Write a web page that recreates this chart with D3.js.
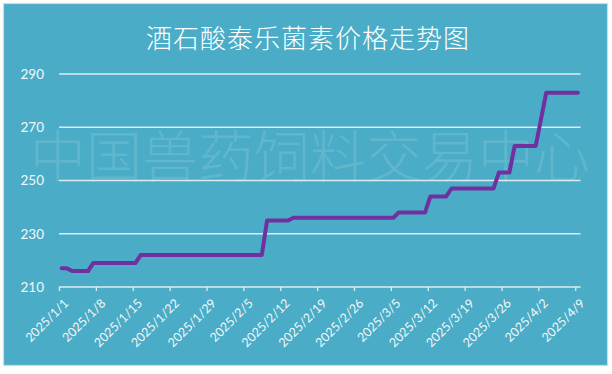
<!DOCTYPE html>
<html>
<head>
<meta charset="utf-8">
<script src="https://cdn.jsdelivr.net/npm/d3@7/dist/d3.min.js"></script>
<style>
  html, body { margin: 0; padding: 0; background: #ffffff; }
  svg { display: block; }
</style>
</head>
<body>
<svg id="chart" width="612" height="374"></svg>
<script>
// Price observations (元/kg) — dates where the price was recorded
const obsDates = [
  "2025-01-01", "2025-01-02", "2025-01-03", "2025-01-06", "2025-01-07",
  "2025-01-15", "2025-01-16", "2025-02-08", "2025-02-09", "2025-02-13",
  "2025-02-14", "2025-03-05", "2025-03-06", "2025-03-11", "2025-03-12",
  "2025-03-15", "2025-03-16", "2025-03-24", "2025-03-25", "2025-03-27",
  "2025-03-28", "2025-04-01", "2025-04-03", "2025-04-09"
];
const obsPrices = [
  217, 217, 216, 216, 219,
  219, 222, 222, 235, 235,
  236, 236, 238, 238, 244,
  244, 247, 247, 253, 253,
  263, 263, 283, 283
];

// Axis ticks
const yTicks = [210, 230, 250, 270, 290];
const xTickDates = [
  "2025-01-01", "2025-01-08", "2025-01-15", "2025-01-22", "2025-01-29",
  "2025-02-05", "2025-02-12", "2025-02-19", "2025-02-26", "2025-03-05",
  "2025-03-12", "2025-03-19", "2025-03-26", "2025-04-02", "2025-04-09"
];

const title = "酒石酸泰乐菌素价格走势图";
const watermark = "中国兽药饲料交易中心";

const parse = d3.utcParse("%Y-%m-%d");
const fmt = d => `${d.getUTCFullYear()}/${d.getUTCMonth() + 1}/${d.getUTCDate()}`;

const data = obsDates.map((d, i) => ({ date: parse(d), value: obsPrices[i] }));

const svg = d3.select("#chart");

const plot = { left: 59, right: 580.5, top: 74, bottom: 287 };

// Chart background and border
svg.append("rect")
  .attr("x", 3.5).attr("y", 3.5)
  .attr("width", 604).attr("height", 362)
  .attr("fill", "#4aacc6")
  .attr("stroke", "#d6d9dc")
  .attr("stroke-width", 1.2);

// Each day occupies one slot; points sit in the middle of their slot
const x = d3.scaleUtc()
  .domain([parse("2025-01-01"), parse("2025-04-10")])
  .range([plot.left, plot.right]);
const halfDay = 12 * 3600 * 1000;
const xMid = d => x(new Date(d.getTime() + halfDay));

const y = d3.scaleLinear()
  .domain([210, 290])
  .range([plot.bottom, plot.top]);

// Watermark
svg.append("text")
  .attr("x", 30).attr("y", 177)
  .attr("font-family", "'Noto Sans CJK SC', sans-serif")
  .attr("font-weight", 300)
  .attr("font-size", 56)
  .attr("fill", "#ffffff")
  .attr("fill-opacity", 0.12)
  .text(watermark);

// Horizontal gridlines
svg.append("g")
  .selectAll("line")
  .data(yTicks.filter(v => v !== 210))
  .join("line")
  .attr("x1", plot.left).attr("x2", plot.right)
  .attr("y1", d => y(d)).attr("y2", d => y(d))
  .attr("stroke", "#dcecf2")
  .attr("stroke-width", 1.3);

// Y axis labels
const yAxis = d3.axisLeft(y).tickValues(yTicks).tickSize(0).tickPadding(15);
const gy = svg.append("g")
  .attr("transform", `translate(${plot.left},0)`)
  .call(yAxis);
gy.select(".domain").remove();
gy.selectAll("text")
  .attr("font-family", "Lato, 'Open Sans', sans-serif")
  .attr("font-size", 13.5)
  .attr("fill", "#f4f8fa");

// X axis
const xTicks = xTickDates.map(parse);
const xAxis = d3.axisBottom(x).tickValues(xTicks).tickSize(4).tickFormat(fmt);
const gx = svg.append("g")
  .attr("transform", `translate(0,${plot.bottom})`)
  .call(xAxis);
gx.select(".domain")
  .attr("stroke", "#dcecf2")
  .attr("stroke-width", 1.3)
  .attr("d", `M${plot.left},0H${plot.right}`);
gx.selectAll(".tick line")
  .attr("stroke", "#dcecf2")
  .attr("stroke-width", 1.3);
gx.selectAll(".tick text")
  .attr("font-family", "Lato, 'Open Sans', sans-serif")
  .attr("font-size", 12.5)
  .attr("fill", "#f4f8fa")
  .attr("text-anchor", "end")
  .attr("dy", null)
  .attr("y", 0)
  .attr("transform", "translate(10,17) rotate(-45)");

// Price line
const line = d3.line()
  .x(d => xMid(d.date))
  .y(d => y(d.value));

svg.append("path")
  .datum(data)
  .attr("d", line)
  .attr("fill", "none")
  .attr("stroke", "#7030a0")
  .attr("stroke-width", 4)
  .attr("stroke-linejoin", "round")
  .attr("stroke-linecap", "round");

// Title
svg.append("text")
  .attr("x", 308).attr("y", 48)
  .attr("text-anchor", "middle")
  .attr("font-family", "'Noto Sans CJK SC', sans-serif")
  .attr("font-weight", 300)
  .attr("font-size", 26)
  .attr("letter-spacing", 1)
  .attr("fill", "#ffffff")
  .text(title);
</script>
</body>
</html>
